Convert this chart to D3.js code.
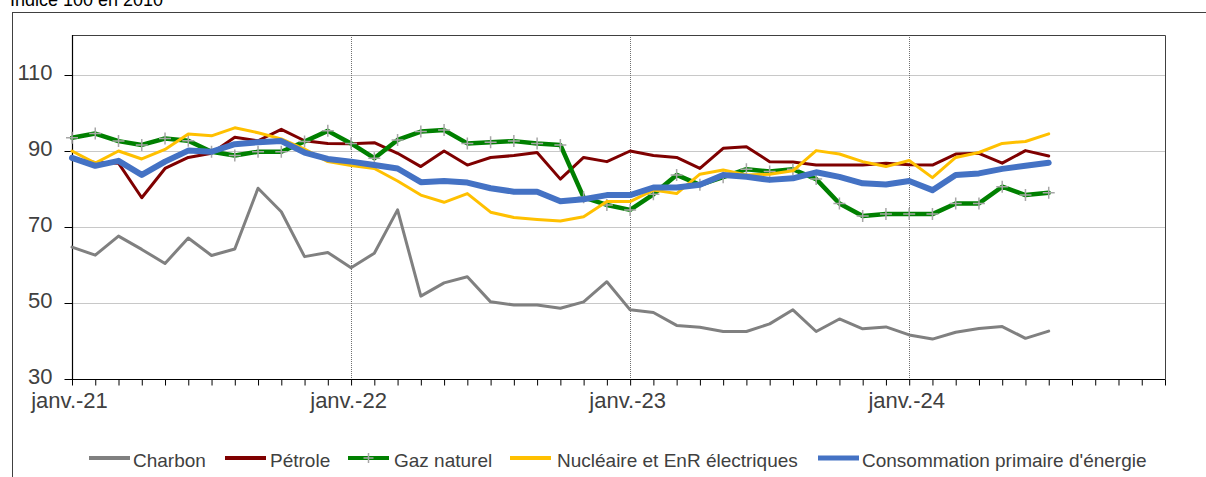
<!DOCTYPE html>
<html>
<head>
<meta charset="utf-8">
<script src="https://cdn.jsdelivr.net/npm/d3@7"></script>
<style>
  html, body { margin: 0; padding: 0; background: #fff; }
  svg { display: block; font-family: "Liberation Sans", Arial, sans-serif; }
</style>
</head>
<body>
<svg id="chart" width="1206" height="477"></svg>
<script>
// ---- Data (monthly, janv. 2021 – juil. 2024), indice 100 en 2010 ----
const monthCount = 48; // janv.-21 .. déc.-24 on the axis
const yearTickMonths = [0, 12, 24, 36];
const yearTickLabels = ["janv.-21", "janv.-22", "janv.-23", "janv.-24"];
const yTicks = [30, 50, 70, 90, 110];

const charbon = [64.7,62.6,67.6,64.1,60.4,67.1,62.5,64.2,80.2,74.0,62.2,63.3,59.3,63.1,74.5,51.8,55.3,56.9,50.3,49.5,49.5,48.6,50.3,55.6,48.2,47.5,44.1,43.6,42.5,42.5,44.5,48.2,42.5,45.8,43.2,43.7,41.6,40.5,42.3,43.3,43.8,40.7,42.6];
const petrole = [87.8,87.0,86.8,77.7,85.4,88.3,89.4,93.6,92.7,95.7,92.7,92.0,91.9,92.2,89.4,85.9,90.0,86.3,88.3,88.8,89.6,82.6,88.3,87.2,90.0,88.8,88.3,85.4,90.7,91.1,87.2,87.1,86.3,86.3,86.3,86.8,86.4,86.3,89.2,89.4,86.8,90.1,88.7];
const gaz = [93.5,94.6,92.6,91.6,93.3,92.7,89.8,88.8,89.8,89.8,92.5,95.3,92.0,88.1,92.9,95.1,95.5,92.0,92.3,92.6,92.0,91.6,77.8,75.8,74.5,78.6,83.7,81.1,83.1,85.2,84.6,85.2,82.6,76.2,72.9,73.4,73.4,73.4,76.2,76.2,80.6,78.4,79.0];
const nucleaire = [90.0,86.8,90.0,87.9,90.4,94.5,94.0,96.1,94.8,93.2,90.5,87.2,86.2,85.4,82.1,78.4,76.5,78.8,73.9,72.5,72.0,71.6,72.7,76.7,76.7,79.7,78.8,83.9,85.0,83.7,83.9,84.8,90.1,89.2,87.2,85.9,87.5,83.0,88.3,89.6,92.0,92.5,94.5];
const conso = [88.2,86.1,87.4,83.7,87.2,90.1,89.8,91.8,92.3,92.6,89.6,87.9,87.2,86.3,85.4,81.8,82.1,81.7,80.2,79.3,79.3,76.8,77.3,78.4,78.4,80.4,80.4,81.1,83.7,83.2,82.4,82.8,84.4,83.2,81.5,81.2,82.1,79.7,83.7,84.1,85.3,86.1,86.9];

const seriesNames = ["Charbon", "Pétrole", "Gaz naturel", "Nucléaire et EnR électriques", "Consommation primaire d'énergie"];
const seriesValues = [charbon, petrole, gaz, nucleaire, conso];
const seriesColors = ["#808080", "#7f0000", "#008000", "#ffc000", "#4472c4"];
const seriesWidths = [3, 3, 4.5, 3, 6];
const titleText = "Indice 100 en 2010";

// ---- Layout ----
const svg = d3.select("#chart");
const plot = { left: 72, right: 1165, top: 37, bottom: 379 };

const x = d3.scaleLinear().domain([0, monthCount - 1]).range([plot.left, plot.right]);
const y = d3.scaleLinear().domain([30, 120]).range([plot.bottom, plot.top]);

// outer frame (top & left edges visible)
svg.append("line").attr("x1", 12).attr("x2", 1206).attr("y1", 12.5).attr("y2", 12.5)
  .attr("stroke", "#404040").attr("stroke-width", 1);
svg.append("line").attr("x1", 12.5).attr("x2", 12.5).attr("y1", 12).attr("y2", 477)
  .attr("stroke", "#404040").attr("stroke-width", 1);

// title (partially cut by the top edge, as in the reference)
svg.append("text").attr("x", 10).attr("y", 6).attr("font-size", 18).attr("fill", "#000")
  .text(titleText);

// horizontal gridlines
svg.append("g").selectAll("line").data(yTicks.filter(v => v > 30)).join("line")
  .attr("x1", plot.left).attr("x2", plot.right)
  .attr("y1", d => Math.round(y(d)) + 0.5).attr("y2", d => Math.round(y(d)) + 0.5)
  .attr("stroke", "#c8c8c8").attr("stroke-width", 1.2);

// vertical dotted year lines
svg.append("g").selectAll("line").data(yearTickMonths.filter(m => m > 0)).join("line")
  .attr("x1", d => Math.round(x(d)) + 0.5).attr("x2", d => Math.round(x(d)) + 0.5)
  .attr("y1", plot.top - 2).attr("y2", plot.bottom)
  .attr("stroke", "#707070").attr("stroke-width", 1).attr("stroke-dasharray", "1,1");

// plot border top/right
svg.append("path")
  .attr("d", `M${plot.left},${plot.top - 1.5}H${plot.right + 0.5}V${plot.bottom}`)
  .attr("fill", "none").attr("stroke", "#404040").attr("stroke-width", 1);

// Y axis
const yAxis = d3.axisLeft(y).tickValues(yTicks).tickSize(8).tickPadding(12).tickFormat(d3.format("d"));
const gy = svg.append("g").attr("transform", `translate(${plot.left + 0.5},0)`).call(yAxis);
gy.select(".domain").attr("d", `M0,${plot.top - 2}V${plot.bottom}`).attr("stroke", "#000").attr("stroke-width", 1.2);
gy.selectAll(".tick line").attr("stroke", "#000");
gy.selectAll(".tick text").attr("font-size", 22).attr("font-family", "Liberation Sans, Arial, sans-serif")
  .attr("fill", "#404040").attr("dy", "0.2em");

// X axis (monthly ticks, labels on January)
const xAxis = d3.axisBottom(x).tickValues(d3.range(0, monthCount)).tickSize(6)
  .tickFormat(d => { const i = yearTickMonths.indexOf(d); return i >= 0 ? yearTickLabels[i] : ""; });
const gx = svg.append("g").attr("transform", `translate(0,${plot.bottom + 0.5})`).call(xAxis);
gx.select(".domain").attr("d", `M${plot.left},0H${plot.right + 0.5}`).attr("stroke", "#000").attr("stroke-width", 1.2);
gx.selectAll(".tick line").attr("stroke", "#000");
gx.selectAll(".tick text").attr("font-size", 22).attr("font-family", "Liberation Sans, Arial, sans-serif")
  .attr("fill", "#404040").attr("y", 13).attr("dy", "0.71em").attr("dx", -3);

// series lines
const line = d3.line().x((d, i) => x(i)).y(d => y(d)).curve(d3.curveLinear);
const gLines = svg.append("g");
seriesValues.forEach((vals, k) => {
  gLines.append("path").datum(vals).attr("d", line)
    .attr("fill", "none").attr("stroke", seriesColors[k]).attr("stroke-width", seriesWidths[k])
    .attr("stroke-linejoin", "round").attr("stroke-linecap", "round");
  if (k === 2) {
    const crossSize = 6;
    gLines.append("g").selectAll("path").data(vals).join("path")
      .attr("d", (d, i) => `M${x(i) - crossSize},${y(d)}H${x(i) + crossSize}M${x(i)},${y(d) - crossSize}V${y(d) + crossSize}`)
      .attr("stroke", "#a6a6a6").attr("stroke-width", 1.5).attr("fill", "none");
  }
});

// legend
const legendItems = [
  { lx: 89, tx: 133 },
  { lx: 225, tx: 270 },
  { lx: 348, tx: 394 },
  { lx: 510, tx: 557 },
  { lx: 818, tx: 862 }
];
const legendY = 458;
const gLeg = svg.append("g");
legendItems.forEach((it, k) => {
  gLeg.append("line").attr("x1", it.lx).attr("x2", it.lx + 41).attr("y1", legendY).attr("y2", legendY)
    .attr("stroke", seriesColors[k]).attr("stroke-width", k === 4 ? 5 : 4);
  if (k === 2) {
    const cx = it.lx + 20.5;
    gLeg.append("path").attr("d", `M${cx - 5},${legendY}H${cx + 5}M${cx},${legendY - 5}V${legendY + 5}`)
      .attr("stroke", "#a6a6a6").attr("stroke-width", 1.5);
  }
  gLeg.append("text").attr("x", it.tx).attr("y", legendY + 9).attr("font-size", 19)
    .attr("fill", "#404040").text(seriesNames[k]);
});
</script>
</body>
</html>
